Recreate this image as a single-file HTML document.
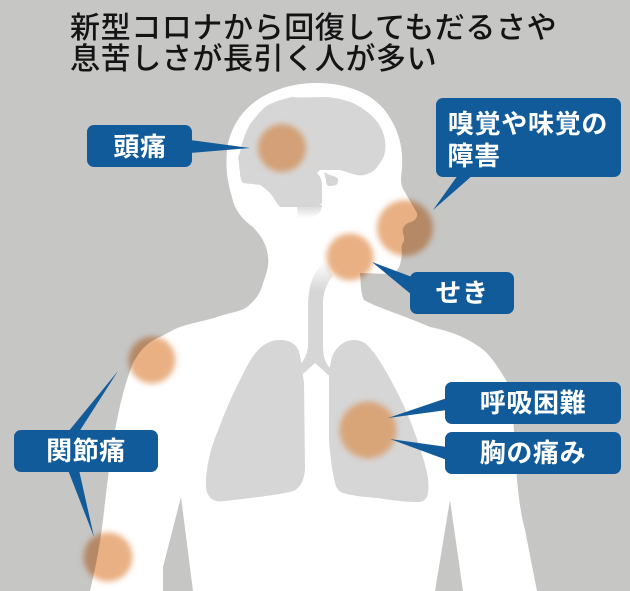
<!DOCTYPE html>
<html lang="ja">
<head>
<meta charset="utf-8">
<style>
html,body{margin:0;padding:0;width:630px;height:591px;overflow:hidden;background:#c6c6c5}
svg{display:block}
text{font-family:"Liberation Sans","Noto Sans CJK JP",sans-serif}
.t{font-size:30px;fill:#141414;font-weight:500;letter-spacing:.6px}
.l{font-size:26px;fill:#fff;font-weight:700;text-anchor:middle;letter-spacing:.6px}
.m{mix-blend-mode:multiply}
</style>
</head>
<body>
<svg width="630" height="591" viewBox="0 0 630 591" xmlns="http://www.w3.org/2000/svg">
<defs>
<filter id="b" x="-30%" y="-30%" width="160%" height="160%"><feGaussianBlur stdDeviation="3"/></filter>
<linearGradient id="tr" x1="0" y1="0" x2="0" y2="1"><stop offset="0" stop-color="#d6d6d6" stop-opacity="0"/><stop offset=".25" stop-color="#d6d6d6"/></linearGradient>
<linearGradient id="bs" x1="0" y1="0" x2="0" y2="1"><stop offset="0" stop-color="#d6d6d6"/><stop offset="1" stop-color="#d6d6d6" stop-opacity="0"/></linearGradient>
</defs>
<rect width="630" height="591" fill="#c6c6c5"/>

<!-- body -->
<path fill="#fff" d="M317 83C350 83 378 96 390 118C400 134 403 150 402 168C401 176 400 183 403 189L417 213C418 219 414 221 408 223C404 225 402 229 403 233C404 237 405 239 403 243C400 246 403 252 401 260C400 267 397 272 392 274L360 273C361 281 360 292 364 300C378 308 405 316 430 327C450 331 465 337 478 346C490 353 500 370 510 387C514 420 515 450 517 480C519 500 521 515 525 530L537 591H463L450 500L435 591H193L181 497L163 567V591H90C95 570 100 545 103 520C107 485 111 450 117 420C122 395 127 378 133 363C142 347 150 341 160 337C168 333 174 329 180 327C195 322 205 321 217 317C228 313 240 312 247 307C256 300 261 292 263 283C268 270 269 263 268 257C267 245 262 237 253 227C240 218 234 207 232 197C226 178 226 163 227 150C230 125 245 107 262 97C280 87 298 83 317 83Z"/>

<!-- brain -->
<path fill="#d6d6d6" d="M245 135C248 127 251 122 255 118C259 113 263 108 268 105C276 101 284 99 292 97C302 98 315 97 327 97C337 98 345 100 353 103C361 107 368 112 373 117C378 122 381 127 383 133C385 138 386 144 385 150C385 155 383 159 380 163C377 168 374 171 370 173C366 175 361 176 357 175C350 174 344 170 337 170H320L317 173C320 176 322 180 322 185V203L317 207H280C276 203 274 198 270 193C266 189 263 187 260 185C254 184 248 184 243 183C241 181 240 177 240 172C239 167 239 162 238 158C241 150 242 142 245 135Z"/>
<path fill="url(#bs)" d="M297 205H322C322 211 318 215 312 218H298Z"/>
<path fill="#d6d6d6" d="M324 172C330 176 337 176 338 179C339 185 335 186 330 186C327 186 326 184 326 180Z"/>

<!-- trachea and lungs -->
<path fill="url(#tr)" d="M325 262C315 270 309 280 308 305V345C308 352 305 358 301 364L303 374L315 363L326 373L332 378L334 371C326 366 323 358 323 345V305C323 295 325 285 333 276Z"/>
<path fill="#d6d6d6" d="M280 340C291 340 297 345 299 352C302 362 302 372 304 382L305 467C305 480 300 490 290 492C265 497 240 499 225 501C212 503 205 497 206 480C207 462 212 445 217 433C225 412 232 395 240 380C248 364 258 340 280 340Z"/>
<path fill="#d6d6d6" d="M353 340C360 340 365 342 369 347C375 353 381 363 387 373C394 386 401 399 407 413C415 432 423 455 427 473C429 482 429 490 427 497C425 501 421 502 417 502C405 502 391 500 377 498C365 497 353 496 343 493C338 491 336 487 335 483C332 470 330 455 329 440V385C329 372 330 365 332 357C334 350 343 340 353 340Z"/>

<!-- spots -->
<circle filter="url(#b)" cx="282" cy="148" r="24" fill="#d3a077"/>
<circle filter="url(#b)" cx="368" cy="430" r="28.5" fill="#d8a579"/>
<circle filter="url(#b)" class="m" cx="405" cy="228" r="28" fill="#e9b083"/>
<circle filter="url(#b)" class="m" cx="350" cy="257" r="23.5" fill="#e9b083"/>
<circle filter="url(#b)" class="m" cx="152" cy="360" r="23.5" fill="#e9b083"/>
<circle filter="url(#b)" class="m" cx="108" cy="557" r="24.5" fill="#e9b083"/>

<!-- callouts -->
<g fill="#115b9a">
<rect x="87" y="125" width="105" height="42" rx="7"/>
<path d="M190 140L250 148L190 153Z"/>
<rect x="436" y="98" width="185" height="79" rx="7"/>
<path d="M458 175H473L433 210Z"/>
<rect x="410" y="272" width="104" height="42" rx="7"/>
<path d="M412 277V295L372 262Z"/>
<rect x="445" y="382" width="176" height="42" rx="7"/>
<path d="M447 398V410L388 418Z"/>
<rect x="445" y="432" width="176" height="42" rx="7"/>
<path d="M447 447V460L390 439Z"/>
<rect x="14" y="430" width="144" height="42" rx="7"/>
<path d="M68 432L118 371L79 432Z"/>
<path d="M68 470H79L94 537Z"/>
</g>

<!-- text -->
<text class="t" x="70" y="38">新型コロナから回復してもだるさや</text>
<text class="t" x="70" y="69">息苦しさが長引く人が多い</text>
<text class="l" x="140" y="156">頭痛</text>
<text class="l" x="528" y="133" style="letter-spacing:.7px">嗅覚や味覚の</text>
<text class="l" x="474" y="165">障害</text>
<text class="l" x="462" y="302">せき</text>
<text class="l" x="533" y="412">呼吸困難</text>
<text class="l" x="533" y="462">胸の痛み</text>
<text class="l" x="86" y="460">関節痛</text>
</svg>
</body>
</html>
